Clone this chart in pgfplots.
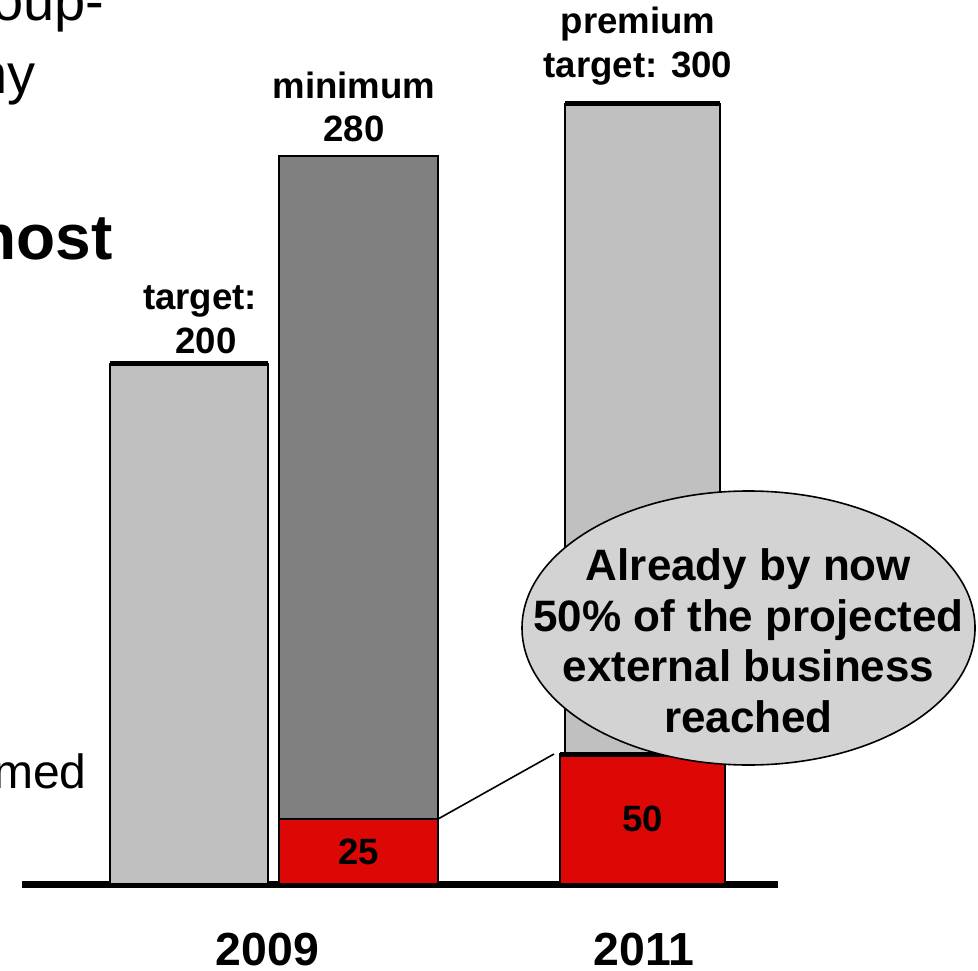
\documentclass[border=0pt]{standalone}
\usepackage{pgfplots}
\pgfplotsset{compat=1.18}
\usepackage{fontspec}
\setmainfont{Liberation Sans}

\definecolor{barlight}{RGB}{192,192,192}
\definecolor{bardark}{RGB}{128,128,128}
\definecolor{barred}{RGB}{221,8,6}
\definecolor{bubble}{RGB}{211,211,211}

\newcommand\lblfont{\fontsize{18.3}{22}\selectfont\bfseries}
\newcommand\bubblefont{\fontsize{22}{25.5}\selectfont\bfseries}

\pgfplotsset{
  colbar/.style={ybar, bar shift=0pt, draw=black, line width=0.6pt, no markers},
  targetline/.style={black, line width=2.5pt, no markers},
}

\begin{document}
\begin{tikzpicture}
\begin{axis}[
  scale only axis, width=378pt, height=390pt,
  xmin=22, xmax=778, ymin=0, ymax=300,
  clip=false,
  axis x line=bottom, axis y line=none,
  x axis line style={-, line width=3.5pt},
  xtick={267.5,644}, xticklabels={2009,2011},
  xtick style={draw=none}, ytick=\empty,
  xticklabel style={font=\fontsize{23.2}{28}\selectfont\bfseries,
    anchor=base, inner sep=0pt, yshift=-38.5pt},
]
% slide text running in from the left
\node[anchor=base east, inner sep=0, font=\fontsize{28}{34}\selectfont] at (axis cs:105,332.3) {oup-};
\node[anchor=base east, inner sep=0, font=\fontsize{28}{34}\selectfont] at (axis cs:36,304.2) {ny};
\node[anchor=base east, inner sep=0, font=\fontsize{32}{38}\selectfont\bfseries] at (axis cs:113,240) {nost};
\node[anchor=base east, inner sep=0, font=\fontsize{24}{29}\selectfont] at (axis cs:87,36.9) {med};

% bars
\addplot[colbar, fill=barlight, bar width=155] coordinates {(642.5,300)};
\addplot[colbar, fill=bardark, bar width=159] coordinates {(358.5,280)};
\addplot[colbar, fill=barlight, bar width=158] coordinates {(189,200)};
\addplot[colbar, fill=barred, bar width=159] coordinates {(358.5,25)};
\draw[line width=0.8pt] (axis cs:438,25) -- (axis cs:554,50);
\addplot[colbar, fill=barred, bar width=165] coordinates {(642.5,50)};

% target marks on top of the bars
\addplot[targetline] coordinates {(110,200) (268,200)};
\addplot[targetline] coordinates {(565,300) (720,300)};
\addplot[targetline] coordinates {(560,50) (725,50)};

% value labels
\node[anchor=base, inner sep=0, font=\lblfont] at (axis cs:200,220.8) {target:};
\node[anchor=base, inner sep=0, font=\lblfont] at (axis cs:206,204.2) {200};
\node[anchor=base, inner sep=0, font=\lblfont] at (axis cs:354,302.3) {minimum};
\node[anchor=base, inner sep=0, font=\lblfont] at (axis cs:354,285.4) {280};
\node[anchor=base, inner sep=0, font=\lblfont] at (axis cs:638,327.3) {premium};
\node[anchor=base, inner sep=0, font=\lblfont] at (axis cs:638,310) {target: 300};
\node[inner sep=0, font=\lblfont] at (axis cs:358.5,12.5) {25};
\node[inner sep=0, font=\lblfont] at (axis cs:642.5,25) {50};

% callout
\draw[fill=bubble, line width=0.8pt] (axis cs:748.5,98.46) ellipse [x radius=113.25pt, y radius=68.5pt];
\node[anchor=base, inner sep=0, font=\bubblefont] at (axis cs:748.5,116.9) {Already by now};
\node[anchor=base, inner sep=0, font=\bubblefont] at (axis cs:748.5,97.3) {50\% of the projected};
\node[anchor=base, inner sep=0, font=\bubblefont] at (axis cs:748.5,77.7) {external business};
\node[anchor=base, inner sep=0, font=\bubblefont] at (axis cs:748.5,58.1) {reached};

\coordinate (bbsw) at (axis cs:0,-33.08);
\coordinate (bbne) at (axis cs:978,340);
\end{axis}
\pgfresetboundingbox
\useasboundingbox (bbsw) rectangle (bbne);
\end{tikzpicture}
\end{document}
